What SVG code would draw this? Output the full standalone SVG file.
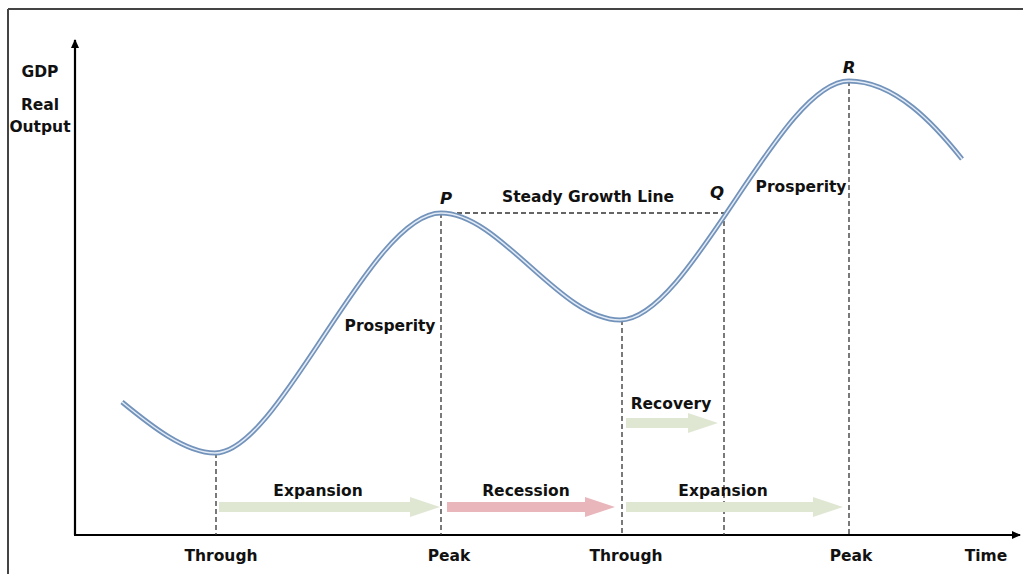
<svg xmlns="http://www.w3.org/2000/svg" width="1023" height="574" viewBox="0 0 1023 574">
<style>
text{font-family:"DejaVu Sans",Verdana,sans-serif;font-weight:bold;font-size:15.5px;fill:#111;text-anchor:middle}
.it{font-style:italic;font-size:16.5px}
.dash{stroke:#333;stroke-width:1.3;stroke-dasharray:5,3;fill:none}
.axis{stroke:#000;stroke-width:2.2;fill:none}
.g{fill:#dfe7d3}
.r{fill:#e9b7bb}
</style>
<defs>
<marker id="ah" markerWidth="9" markerHeight="8" refX="8" refY="4" orient="auto" markerUnits="userSpaceOnUse">
<path d="M0,0 L9,4 L0,8 Z" fill="#000"/>
</marker>
</defs>
<g id="frame">
<line x1="8" y1="9" x2="1023" y2="9" stroke="#444" stroke-width="2"/>
<line x1="8" y1="9" x2="8" y2="574" stroke="#444" stroke-width="2"/>
</g>
<g id="axes">
<line class="axis" x1="75" y1="535" x2="75" y2="40" marker-end="url(#ah)"/>
<line class="axis" x1="74" y1="535" x2="1020" y2="535" marker-end="url(#ah)"/>
<text x="40" y="77">GDP</text>
<text x="40" y="110">Real</text>
<text x="40" y="132">Output</text>
<text x="986" y="561">Time</text>
</g>
<g id="connectors">
<line class="dash" x1="216" y1="453" x2="216" y2="535"/>
<line class="dash" x1="441" y1="213" x2="441" y2="535"/>
<line class="dash" x1="622" y1="320" x2="622" y2="535"/>
<line class="dash" x1="724" y1="213" x2="724" y2="535"/>
<line class="dash" x1="849" y1="81" x2="849" y2="535"/>
<line class="dash" x1="441" y1="213" x2="724" y2="213"/>
</g>
<g id="curve">
<path d="M122,402 C150,425 185,453 215,453 C280,453 370,213 441,213 C500,213 560,320 620,320 C690,320 780,81 849,81 C895,81 935,125 962,159" fill="none" stroke="#7393bb" stroke-width="5"/>
<path d="M122,402 C150,425 185,453 215,453 C280,453 370,213 441,213 C500,213 560,320 620,320 C690,320 780,81 849,81 C895,81 935,125 962,159" fill="none" stroke="#e3ecf6" stroke-width="1.5"/>
</g>
<g id="points">
<text class="it" x="446" y="204">P</text>
<text class="it" x="717" y="198">Q</text>
<text class="it" x="849" y="73">R</text>
<text x="588" y="202">Steady Growth Line</text>
<text x="390" y="331">Prosperity</text>
<text x="801" y="192">Prosperity</text>
</g>
<g id="expansion1">
<path class="g" d="M219,502 L410,502 L410,497 L440,507 L410,517 L410,512 L219,512 Z"/>
<text x="318" y="496">Expansion</text>
</g>
<g id="recession">
<path class="r" d="M447,502 L585,502 L585,497 L615,507 L585,517 L585,512 L447,512 Z"/>
<text x="526" y="496">Recession</text>
</g>
<g id="expansion2">
<path class="g" d="M626,502 L813,502 L813,497 L843,507 L813,517 L813,512 L626,512 Z"/>
<text x="723" y="496">Expansion</text>
</g>
<g id="recovery">
<path class="g" d="M626,418 L688,418 L688,413 L718,423 L688,433 L688,428 L626,428 Z"/>
<text x="671" y="409">Recovery</text>
</g>
<g id="labels">
<text x="221" y="561">Through</text>
<text x="449" y="561">Peak</text>
<text x="626" y="561">Through</text>
<text x="851" y="561">Peak</text>
</g>
</svg>
